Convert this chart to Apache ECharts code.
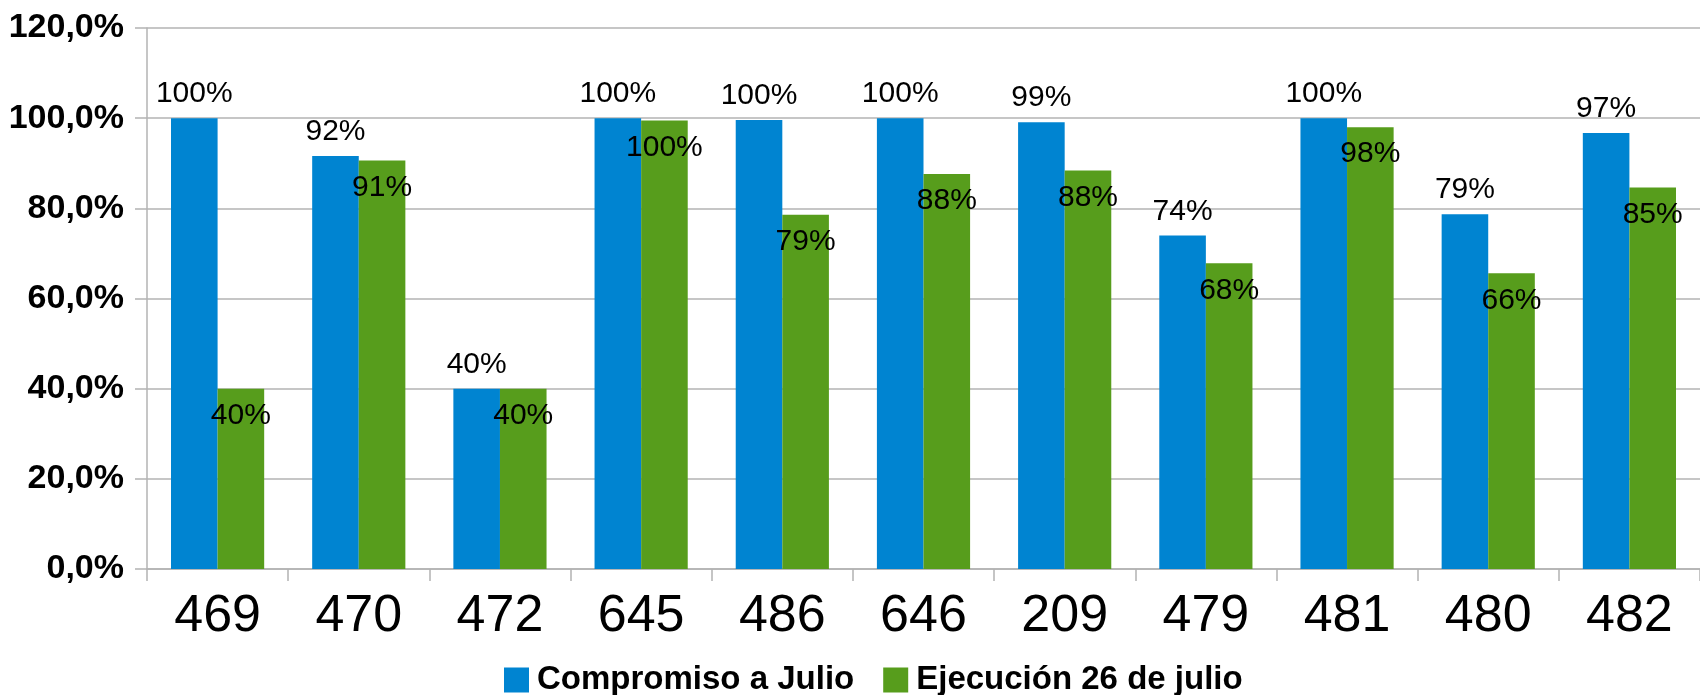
<!DOCTYPE html>
<html>
<head>
<meta charset="utf-8">
<script src="https://cdn.jsdelivr.net/npm/echarts@6/dist/echarts.min.js"></script>
<style>
html,body{margin:0;padding:0;background:#fff;}
#chart{width:1700px;height:695px;}
</style>
</head>
<body>
<div id="chart"></div>
<script>
const categories = ['469','470','472','645','486','646','209','479','481','480','482'];
const compromiso = [100, 91.6, 40, 100, 99.6, 100, 99.1, 74.0, 100, 78.7, 96.7];
const ejecucion = [40, 90.6, 40, 99.5, 78.6, 87.6, 88.4, 67.8, 98.0, 65.6, 84.6];
const seriesNames = ['Compromiso a Julio', 'Ejecución 26 de julio'];

const FONT = '"Liberation Sans", Arial, sans-serif';
const chart = echarts.init(document.getElementById('chart'));
const pct = p => Math.round(p.value) + '%';

chart.setOption({
  animation: false,
  backgroundColor: '#ffffff',
  grid: { left: 147, right: -9, top: 28, bottom: 126 },
  legend: {
    left: 499, top: 655,
    itemWidth: 25, itemHeight: 25, itemGap: 29,
    icon: 'rect',
    textStyle: { fontFamily: FONT, fontWeight: 'bold', fontSize: 33, lineHeight: 40, color: '#000', padding: [0,0,0,3] },
    data: seriesNames
  },
  xAxis: {
    type: 'category',
    data: categories,
    axisLine: { show: true, lineStyle: { color: '#b3b3b3', width: 1.5 } },
    axisTick: { show: true, length: 12, lineStyle: { color: '#b3b3b3', width: 1.5 } },
    axisLabel: { fontFamily: FONT, fontSize: 52, color: '#000', margin: 22 }
  },
  yAxis: {
    type: 'value', min: 0, max: 120, interval: 20,
    axisLine: { show: true, lineStyle: { color: '#b3b3b3', width: 1.5 } },
    axisTick: { show: true, length: 12, lineStyle: { color: '#b3b3b3', width: 1.5 } },
    splitLine: { show: true, lineStyle: { color: '#b3b3b3', width: 1.5 } },
    axisLabel: {
      fontFamily: FONT, fontSize: 34, fontWeight: 'bold', color: '#000', margin: 23,
      formatter: v => v.toFixed(1).replace('.', ',') + '%'
    }
  },
  series: [
    {
      name: seriesNames[0], type: 'bar', data: compromiso,
      barGap: '0%', barCategoryGap: '34%',
      itemStyle: { color: '#0084d1' },
      label: { show: true, position: 'top', distance: 9, formatter: pct,
        fontFamily: FONT, fontSize: 30, color: '#000' }
    },
    {
      name: seriesNames[1], type: 'bar', data: ejecucion,
      barGap: '0%', barCategoryGap: '34%',
      itemStyle: { color: '#579d1c' },
      label: { show: true, position: 'insideTop', distance: 12, formatter: pct,
        fontFamily: FONT, fontSize: 30, color: '#000' }
    }
  ]
});
</script>
</body>
</html>
